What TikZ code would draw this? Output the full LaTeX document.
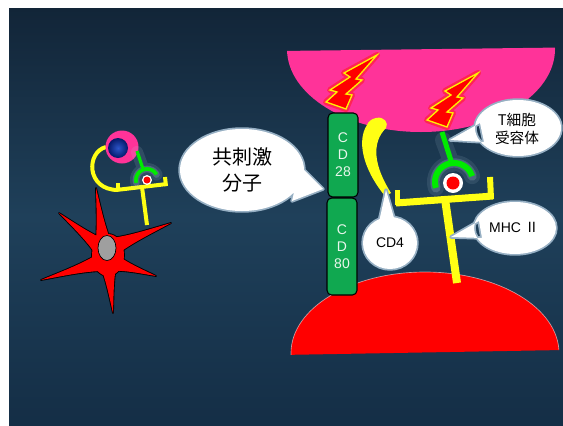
\documentclass[tikz,border=0pt]{standalone}
\usepackage{fontspec}
\usetikzlibrary{calc}
\setmainfont{Liberation Sans}
\newfontfamily\cjk{Noto Sans CJK JP}
% one tapered arm of the dendritic cell: #1 base, #2 tip, #3 half width at base, #4 path options
\newcommand\cellarm[4]{%
  \path[#4] ($(#1)!#3!90:(#2)$)
    .. controls ($(#1)!0.3!(#2)!2.8pt!90:(#2)$) and ($(#1)!0.7!(#2)!1.6pt!90:(#2)$) .. (#2)
    .. controls ($(#1)!0.7!(#2)!1.6pt!-90:(#2)$) and ($(#1)!0.3!(#2)!2.8pt!-90:(#2)$) .. ($(#1)!#3!-90:(#2)$)
    -- cycle;}
\begin{document}
\begin{tikzpicture}[x=0.75pt,y=-0.75pt]
% colours
\definecolor{bgtop}{RGB}{18,37,56}
\definecolor{bgmid}{RGB}{31,64,90}
\definecolor{bgbot}{RGB}{20,46,70}
\definecolor{tpink}{RGB}{255,51,153}
\definecolor{apcred}{RGB}{255,0,0}
\definecolor{molyellow}{RGB}{255,255,20}
\definecolor{tcrgreen}{RGB}{0,235,0}
\definecolor{cdgreen}{RGB}{16,168,80}
\definecolor{cdtext}{RGB}{232,246,236}
\definecolor{glowc}{RGB}{180,205,220}
\definecolor{bubbleedge}{RGB}{150,175,195}
\definecolor{nucin}{RGB}{45,85,200}
\definecolor{nucout}{RGB}{5,25,105}
\tikzset{
  yel/.style={draw=molyellow, line cap=butt, line join=round},
  grn/.style={draw=tcrgreen, line cap=butt},
  halo/.style={draw=glowc, line cap=round, line join=round},
  bubbleline/.style={draw=bubbleedge, line width=2.6pt, line join=round},
  cellrim/.style={draw=black, line width=1.3pt, line join=round},
  cellfill/.style={fill=apcred},
  cdbox/.style={draw=black, line width=0.8pt, fill=cdgreen, rounded corners=3.5pt,
    minimum width=22.5pt, minimum height=63pt, inner sep=0pt, align=center,
    text=cdtext, font=\fontsize{10.5}{12.75}\selectfont},
  boltshape/.pic={
    \filldraw[fill=red, draw=yellow, line width=1pt, line join=miter,
      preaction={draw=red!85!orange, line width=4.5pt, opacity=.45, line join=round}]
      (0,0) -- (-33,18) -- (-27,22) -- (-47,35) -- (-40,37) -- (-51,47)
      -- (-31,54) -- (-25,40) -- (-31,39) -- (-15,25) -- (-21,24) -- cycle;
  }
}
\useasboundingbox (0,0) rectangle (563,425);
\fill[white] (0,0) rectangle (563,425);
% slide background
\shade[top color=bgtop, bottom color=bgbot, middle color=bgmid] (9,8) rectangle (563,425);

% ---------- T cell (top) ----------
\begin{scope}
  \clip (280,51) -- (563,47.5) -- (563,140) -- (280,140) -- cycle;
  \fill[tpink] (421,49) ellipse [x radius=134, y radius=83];
\end{scope}
\pic at (377,55) {boltshape};
\pic at (478,73) {boltshape};

% ---------- antigen presenting cell (bottom) ----------
\begin{scope}
  \clip (280,355) -- (563,350) -- (563,250) -- (280,250) -- cycle;
  \fill[apcred] (425,353) ellipse [x radius=134, y radius=81];
  \draw[white, opacity=.55, line width=.5pt] (425,353) ellipse [x radius=134, y radius=81];
\end{scope}

% ---------- CD28 / CD80 ----------
\node[cdbox] (cd28) at (343,155) {C\\D\\28};
\node[cdbox, minimum height=72.75pt] (cd80) at (342,246.5) {C\\D\\80};

% ---------- CD4 ----------
\fill[molyellow] (367,125) .. controls (357,140) and (362,168) .. (385,196)
  -- (391,193) .. controls (374,166) and (371,143) .. (386,128)
  .. controls (389,123) and (384,116) .. (376,118)
  .. controls (371,119) and (368,122) .. (367,125) -- cycle;

% ---------- MHC II ----------
\draw[yel, line width=5.25pt] (396,203) -- (493,196);
\draw[yel, line width=4.5pt] (491,199) -- (490,177);
\draw[yel, line width=3.75pt] (397,205) -- (397,190);
\draw[yel, line width=6pt] (445,199) -- (457,283);

% ---------- T cell receptor ----------
\draw[halo, line width=12pt, opacity=.12] (443,140) -- (452,164)
  plot[domain=162:342, samples=30] ({454+19*cos(\x)},{182+19*sin(\x)});
\draw[halo, line width=7pt, opacity=.22]
  plot[domain=162:342, samples=30] ({454+19*cos(\x)},{182+19*sin(\x)});
\draw[grn, line width=3.75pt] (442,132) -- (452,164);
\draw[grn, line width=4.5pt]
  plot[domain=162:342, samples=40] ({454+19*cos(\x)},{182+19*sin(\x)});
\fill[white] (453,183) circle [radius=10];
\fill[red] (453,183) circle [radius=6.5];

% ---------- small cells on the left ----------
% dendritic cell: body and six arms, rim drawn first, fill on top
\coordinate (dcup) at (96,188);   \coordinate (dcupb) at (104,248);
\coordinate (dcru) at (171,223);  \coordinate (dcrub) at (112,247);
\coordinate (dcrl) at (156,276);  \coordinate (dcrlb) at (112,262);
\coordinate (dcdn) at (113,313);  \coordinate (dcdnb) at (108,262);
\coordinate (dcll) at (41,280);   \coordinate (dcllb) at (102,262);
\coordinate (dcul) at (59,213);   \coordinate (dculb) at (102,248);
\foreach \b/\t in {dcupb/dcup, dcrub/dcru, dcrlb/dcrl, dcdnb/dcdn, dcllb/dcll, dculb/dcul}
  {\cellarm{\b}{\t}{7pt}{cellrim}}
\path[cellrim] (108,255) ellipse [x radius=16, y radius=21];
\foreach \b/\t in {dcupb/dcup, dcrub/dcru, dcrlb/dcrl, dcdnb/dcdn, dcllb/dcll, dculb/dcul}
  {\cellarm{\b}{\t}{7pt}{cellfill}}
\path[cellfill] (108,255) ellipse [x radius=16, y radius=21];
\filldraw[fill=gray!75, draw=black, line width=.5pt] (107,248) ellipse [x radius=9, y radius=12.5];

% small MHC II with CD4
\draw[yel, line width=3pt] (106,147) .. controls (86,152) and (86,190) .. (118,190);
\draw[yel, line width=3pt] (116,190) -- (167,184);
\draw[yel, line width=3pt] (166,186) -- (165,177);
\draw[yel, line width=3pt] (118,191) -- (118,183);
\draw[yel, line width=3pt] (142,187) -- (147,225);
% small T cell
\fill[tpink] (122,147) circle [radius=16.5];
\shade[inner color=nucin, outer color=nucout] (118,148) circle [radius=10];
\draw[halo, line width=9pt, opacity=.14] (137,152) -- (143,168)
  plot[domain=165:330, samples=20] ({147+11*cos(\x)},{180+11*sin(\x)});
\draw[halo, line width=5pt, opacity=.22]
  plot[domain=165:330, samples=20] ({147+11*cos(\x)},{180+11*sin(\x)});
\draw[grn, line width=2.4pt] (137,151) -- (143,169);
\draw[grn, line width=2.8pt]
  plot[domain=165:330, samples=30] ({147+11*cos(\x)},{180+11*sin(\x)});
\fill[white] (147,180) circle [radius=5];
\fill[red] (147,180) circle [radius=3.5];

% ---------- speech bubbles ----------
\path[bubbleline] (242,170) ellipse [x radius=62, y radius=41]
  (300,166) -- (323,189) -- (292,201) -- cycle;
\fill[white] (242,170) ellipse [x radius=62, y radius=41]
  (300,166) -- (323,189) -- (292,201) -- cycle;
\node[font=\cjk\fontsize{15}{19.5}\selectfont, align=center, inner sep=0pt] (costim) at (242,170) {共刺激\\分子};

\path[bubbleline] (518,128) ellipse [x radius=43, y radius=28]
  (480,123) -- (450,140) -- (484,142) -- cycle;
\fill[white] (518,128) ellipse [x radius=43, y radius=28]
  (480,123) -- (450,140) -- (484,142) -- cycle;
\node[font=\cjk\fontsize{11}{13.5}\selectfont, align=center, inner sep=0pt] (tcrlabel) at (517,129) {T細胞\\受容体};

\path[bubbleline] (390,243) ellipse [x radius=27, y radius=26]
  (379,222) -- (386,190) -- (394,218) -- cycle;
\fill[white] (390,243) ellipse [x radius=27, y radius=26]
  (379,222) -- (386,190) -- (394,218) -- cycle;
\node[font=\fontsize{10.5}{12}\selectfont, inner sep=0pt] (cd4label) at (390,243) {CD4};

\path[bubbleline] (515,228) ellipse [x radius=41, y radius=26]
  (479,221) -- (451,237) -- (482,238) -- cycle;
\fill[white] (515,228) ellipse [x radius=41, y radius=26]
  (479,221) -- (451,237) -- (482,238) -- cycle;
\node[font=\fontsize{10.5}{12}\selectfont, inner sep=0pt] (mhclabel) at (514,227) {MHC {\cjk Ⅱ}};
\end{tikzpicture}
\end{document}
